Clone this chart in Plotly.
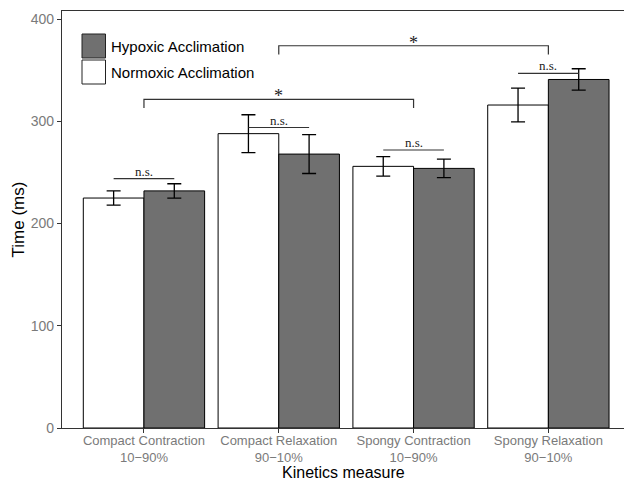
import plotly.graph_objects as go

categories = ["Compact Contraction<br>10−90%", "Compact Relaxation<br>90−10%",
              "Spongy Contraction<br>10−90%", "Spongy Relaxation<br>90−10%"]
normoxic = [225, 288, 256, 316]
normoxic_err = [7, 18.5, 9.5, 16.5]
hypoxic = [232, 268, 254, 341]
hypoxic_err = [7, 19, 9, 10.5]

# significance annotations
ns_heights = [244, 294, 272, 347]            # per-category "n.s." line heights
star_pairs = [(0, 2), (1, 3)]                 # category pairs compared
star_heights = [321.5, 374]
star_drop = 8.5

xs = list(range(len(categories)))
fig = go.Figure()
fig.add_trace(go.Bar(x=xs, y=normoxic, name="Normoxic Acclimation",
                     marker=dict(color="white", line=dict(color="black", width=1)),
                     error_y=dict(type="data", array=normoxic_err, color="black", thickness=1.3, width=7),
                     offsetgroup="n"))
fig.add_trace(go.Bar(x=xs, y=hypoxic, name="Hypoxic Acclimation",
                     marker=dict(color="#707070", line=dict(color="black", width=1)),
                     error_y=dict(type="data", array=hypoxic_err, color="black", thickness=1.3, width=7),
                     offsetgroup="h"))

half = 0.225
shapes = []
annos = []
for i, h in enumerate(ns_heights):
    shapes.append(dict(type="line", xref="x", yref="y", x0=i - half, x1=i + half, y0=h, y1=h,
                       line=dict(color="#333", width=1.2)))
    annos.append(dict(x=i, y=h, xref="x", yref="y", text="n.s.", showarrow=False,
                      yanchor="bottom", yshift=-2, font=dict(family="Liberation Serif", size=13, color="#222")))
for (a, b), h in zip(star_pairs, star_heights):
    shapes.append(dict(type="path", xref="x", yref="y",
                       path=f"M {a},{h - star_drop} L {a},{h} L {b},{h} L {b},{h - star_drop}",
                       line=dict(color="#333", width=1.2)))
    annos.append(dict(x=(a + b) / 2, y=h, xref="x", yref="y", text="*", showarrow=False,
                      yanchor="bottom", yshift=-9, font=dict(family="Liberation Serif", size=18, color="#222")))

# manual legend (large keys as in reference)
legend_items = [("Hypoxic Acclimation", "#707070"), ("Normoxic Acclimation", "white")]
for k, (label, col) in enumerate(legend_items):
    y0 = 34 + k * 26
    shapes.append(dict(type="rect", xref="paper", yref="paper",
                       x0=(82 - 62) / 562, x1=(105.5 - 62) / 562,
                       y0=1 - (y0 + 24 - 11) / 417, y1=1 - (y0 - 11) / 417,
                       fillcolor=col, line=dict(color="#222", width=1)))
    annos.append(dict(x=(109 - 62) / 562, y=1 - (y0 + 12 - 11) / 417, xref="paper", yref="paper",
                      text=label, showarrow=False, xanchor="left", yanchor="middle",
                      font=dict(family="Liberation Sans", size=15, color="black")))

# x-axis title as annotation (below tick labels)
annos.append(dict(x=(343 - 62) / 562, y=-(472 - 428) / 417, xref="paper", yref="paper",
                  text="Kinetics measure", showarrow=False, xanchor="center", yanchor="middle",
                  font=dict(family="Liberation Sans", size=16, color="black")))

fig.update_layout(
    width=624, height=482,
    margin=dict(l=62, r=0, t=11, b=54),
    paper_bgcolor="white", plot_bgcolor="white",
    barmode="group", bargap=0.1, bargroupgap=0,
    showlegend=False,
    shapes=shapes, annotations=annos,
    font=dict(family="Liberation Sans"),
    xaxis=dict(range=[-0.608, 3.561], tickvals=xs, ticktext=categories,
               showline=True, linecolor="#333", linewidth=1.2, mirror=True,
               ticks="outside", ticklen=4, tickcolor="#333", ticklabelstandoff=-4,
               tickfont=dict(size=13, color="#7a7a7a"),
               showgrid=False, zeroline=False),
    yaxis=dict(range=[0, 408], tickvals=[0, 100, 200, 300, 400],
               showline=True, linecolor="#333", linewidth=1.2,
               ticks="outside", ticklen=4, tickcolor="#333",
               tickfont=dict(size=14, color="#7a7a7a"),
               title=dict(text="Time (ms)", font=dict(size=17, color="black"), standoff=1),
               showgrid=False, zeroline=False),
)
fig.write_html("out.html")
